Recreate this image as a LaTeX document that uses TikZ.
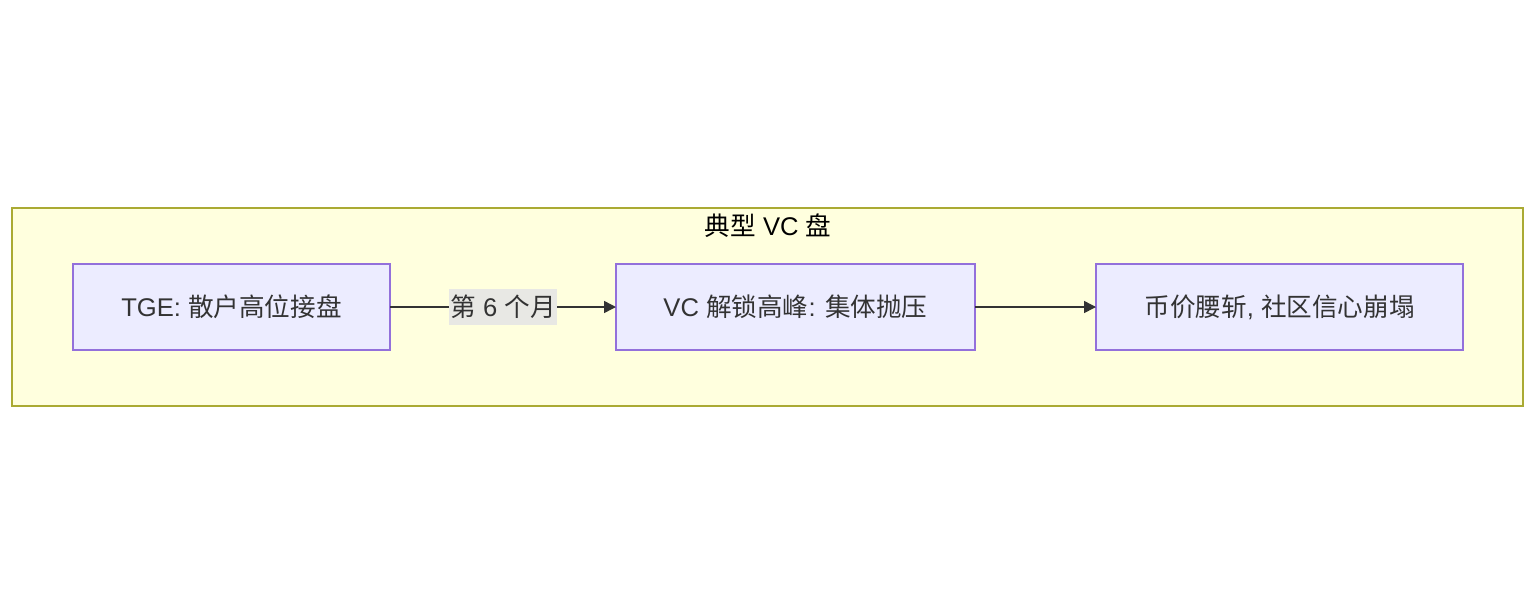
\documentclass[tikz,border=0pt]{standalone}
\usepackage{fontspec}
\setmainfont{Liberation Sans}
\newfontfamily\cjk{Noto Sans CJK SC}
\usetikzlibrary{arrows.meta,positioning}
\definecolor{clusterfill}{HTML}{FFFFDE}
\definecolor{clusterline}{HTML}{AAAA33}
\definecolor{nodefill}{HTML}{ECECFF}
\definecolor{nodeline}{HTML}{9370DB}
\definecolor{textgray}{HTML}{333333}
\definecolor{labelfill}{HTML}{E8E8E4}

\begin{document}
\begin{tikzpicture}[x=1pt,y=-1pt,
    stagebox/.style={draw=nodeline,line width=1.3pt,fill=nodefill,minimum height=86pt,
                     inner sep=0pt,outer sep=0pt,text=textgray,font=\fontsize{25.6}{30}\selectfont},
    arr/.style={-{Triangle[length=12pt,width=12pt]},line width=1.5pt,draw=textgray},
    edgelabel/.style={fill=labelfill,inner xsep=1pt,inner ysep=6pt,text=textgray,
                      font=\fontsize{25.6}{30}\selectfont}
  ]
    \useasboundingbox (0,0) rectangle (1536,614);
    \fill[white] (0,0) rectangle (1536,614);
    % cluster
    \draw[draw=clusterline,line width=1.3pt,fill=clusterfill] (12,208) rectangle (1523,406);
    \node[text=black,font=\fontsize{25.6}{30}\selectfont] (title) at (768,226) {{\cjk 典型} VC {\cjk 盘}};
    % stages
    \node[stagebox,minimum width=317pt] (tge) at (231.5,307) {TGE: {\cjk 散户高位接盘}};
    \node[stagebox,minimum width=359pt,right=226pt of tge] (unlock) {VC {\cjk 解锁高峰}: {\cjk 集体抛压}};
    \node[stagebox,minimum width=367pt,right=121pt of unlock] (crash) {{\cjk 币价腰斩}, {\cjk 社区信心崩塌}};
    \draw[arr] (tge) -- node[edgelabel] {{\cjk 第} 6 {\cjk 个月}} (unlock);
    \draw[arr] (unlock) -- (crash);
  \end{tikzpicture}
\end{document}
